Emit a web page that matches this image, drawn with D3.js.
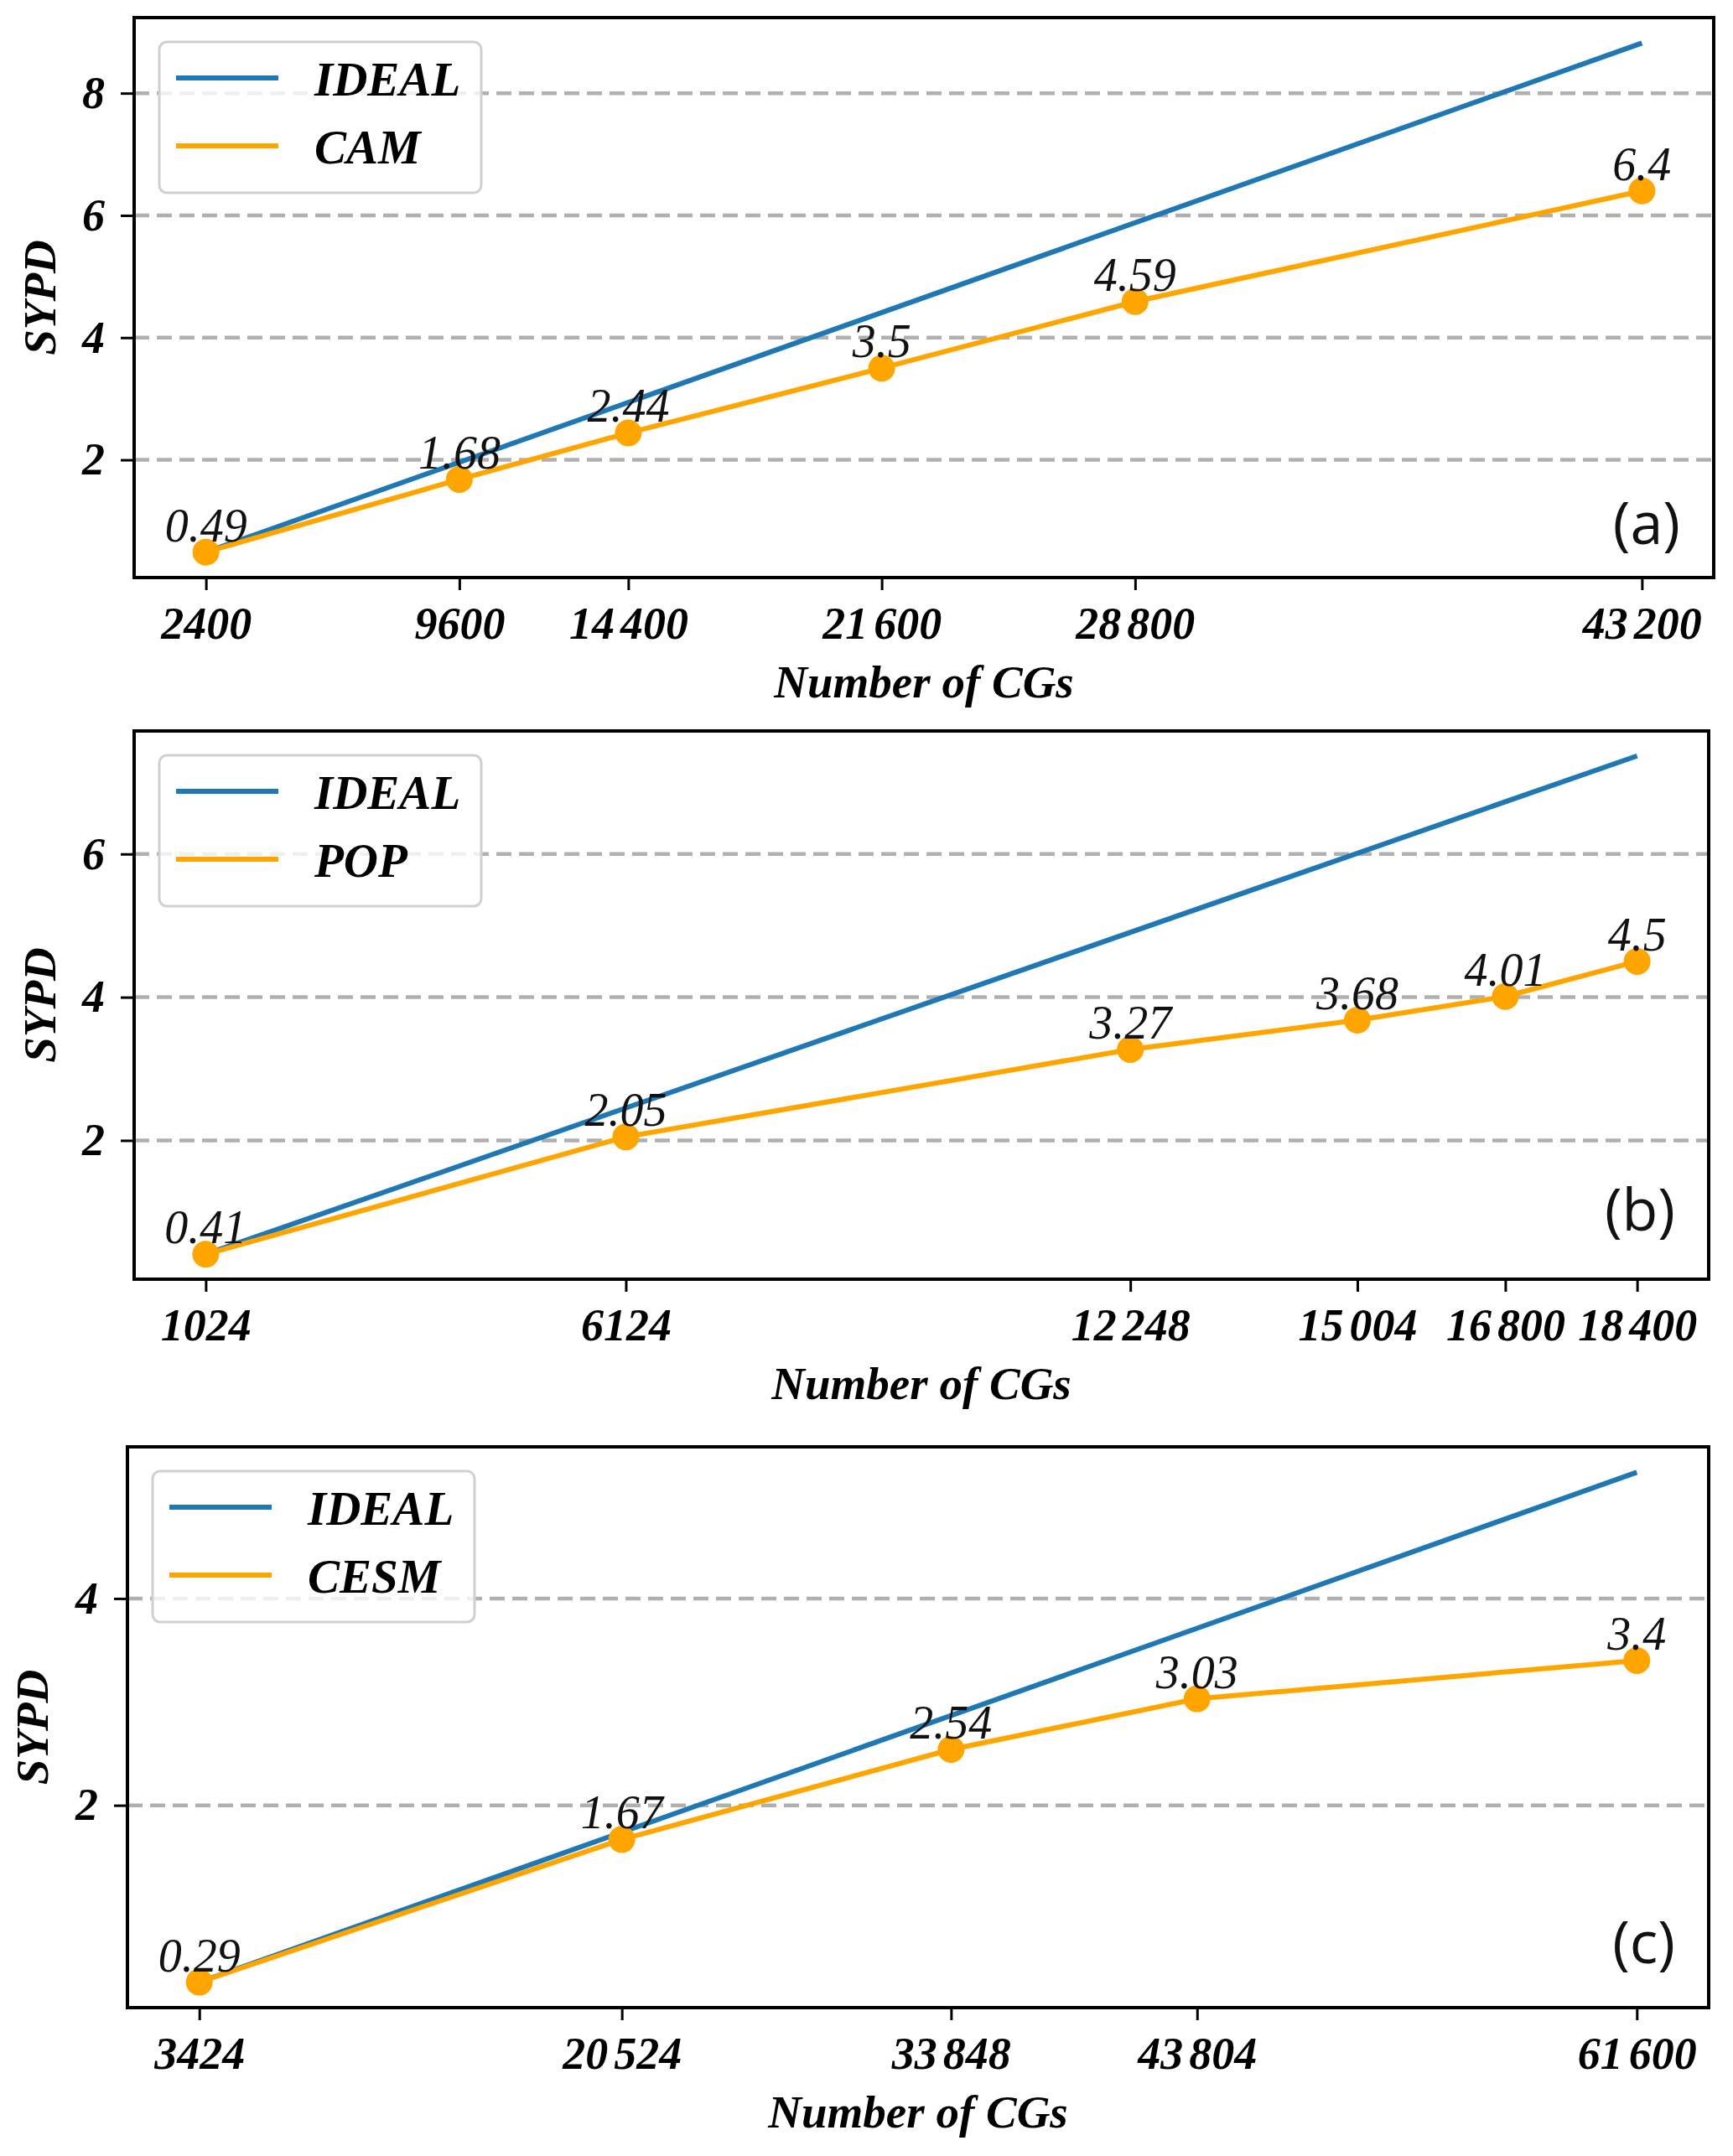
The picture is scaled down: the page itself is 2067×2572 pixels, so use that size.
<!DOCTYPE html>
<html lang="en">
<head>
<meta charset="utf-8">
<title>SYPD scaling</title>
<style>
  body { margin: 0; background: #fff; }
  svg { display: block; }
</style>
</head>
<body>
<svg id="chart"></svg>
<script src="https://cdn.jsdelivr.net/npm/d3@7/dist/d3.min.js"></script>
<script>

// --- data ---
const cgA = [2400, 9600, 14400, 21600, 28800, 43200]
const sypdCAM = [0.49, 1.68, 2.44, 3.5, 4.59, 6.4]
const idealA = [0.49, 8.82]          // first and last CG count

const cgB = [1024, 6124, 12248, 15004, 16800, 18400]
const sypdPOP = [0.41, 2.05, 3.27, 3.68, 4.01, 4.5]
const idealB = [0.41, 7.37]

const cgC = [3424, 20524, 33848, 43804, 61600]
const sypdCESM = [0.29, 1.67, 2.54, 3.03, 3.4]
const idealC = [0.29, 5.22]

const yTicksA = [2, 4, 6, 8]
const yTicksB = [2, 4, 6]
const yTicksC = [2, 4]

const modelNames = ["CAM", "POP", "CESM"]
const panelTags = ["(a)", "(b)", "(c)"]
const idealName = "IDEAL"
const xTitle = "Number of CGs"
const yTitle = "SYPD"

// --- layout ---
const W = 2067, H = 2572
const boxes = [
  {left: 160, right: 2044, top: 21,   bottom: 689,  ylab: 47, tagLift: 40},
  {left: 160, right: 2038, top: 872,  bottom: 1526, ylab: 47, tagLift: 58},
  {left: 152, right: 2038, top: 1726, bottom: 2395, ylab: 38, tagLift: 53}
]

const panels = [
  {cg: cgA, vals: sypdCAM, ideal: idealA, yTicks: yTicksA},
  {cg: cgB, vals: sypdPOP, ideal: idealB, yTicks: yTicksB},
  {cg: cgC, vals: sypdCESM, ideal: idealC, yTicks: yTicksC}
]

const blue = "#1f77b4", orange = "#ffa500", gridCol = "#b0b0b0"
const serif = "'Times New Roman', 'Liberation Serif', Tinos, serif"

const svg = d3.select("#chart").attr("width", W).attr("height", H)
svg.append("rect").attr("width", W).attr("height", H).attr("fill", "#fff")

// matplotlib-like 5% padding
const pad = ([a, b]) => { const m = (b - a) * 0.05; return [a - m, b + m] }

panels.forEach((p, i) => {
  const b = boxes[i]
  const g = svg.append("g")

  const x = d3.scaleLinear().domain(pad(d3.extent(p.cg))).range([b.left, b.right])
  const allY = p.vals.concat(p.ideal)
  const y = d3.scaleLinear().domain(pad(d3.extent(allY))).range([b.bottom, b.top])

  // dashed grid
  g.selectAll(".grid").data(p.yTicks).enter()
    .append("line")
      .attr("x1", b.left).attr("x2", b.right)
      .attr("y1", d => y(d)).attr("y2", d => y(d))
      .style("stroke", gridCol)
      .style("stroke-width", 4.5)
      .style("stroke-dasharray", "18,9")

  // axes
  const xAxis = g.append("g")
    .attr("transform", `translate(0,${b.bottom})`)
    .call(d3.axisBottom(x).tickValues(p.cg).tickFormat(d => String(d)).tickSize(15).tickPadding(20).tickSizeOuter(0))
  const yAxis = g.append("g")
    .attr("transform", `translate(${b.left},0)`)
    .call(d3.axisLeft(y).tickValues(p.yTicks).tickFormat(d3.format("d")).tickSize(16).tickPadding(19).tickSizeOuter(0))

  // small gap before the last three digits of 5-digit counts
  xAxis.selectAll(".tick text").each(function(d) {
    if (d < 10000) return
    const s = String(d), t = d3.select(this).text(null)
    t.append("tspan").text(s.slice(0, -3))
    t.append("tspan").attr("dx", 7).text(s.slice(-3))
  })

  ;[xAxis, yAxis].forEach(a => {
    a.select(".domain").remove()
    a.selectAll(".tick line").style("stroke", "#000").style("stroke-width", 3)
    a.selectAll(".tick text")
      .style("font-family", serif)
      .style("font-size", "54px")
      .style("font-weight", 700)
      .style("font-style", "italic")
      .style("fill", "#000")
  })

  // ideal line
  const xEnds = d3.extent(p.cg)
  g.append("path")
    .datum(p.ideal.map((v, k) => [xEnds[k], v]))
    .attr("d", d3.line().x(d => x(d[0])).y(d => y(d[1])))
    .style("fill", "none").style("stroke", blue).style("stroke-width", 6)

  // model line + markers
  const pts = p.cg.map((c, k) => [c, p.vals[k]])
  g.append("path")
    .datum(pts)
    .attr("d", d3.line().x(d => x(d[0])).y(d => y(d[1])))
    .style("fill", "none").style("stroke", orange).style("stroke-width", 6)

  g.selectAll(".dot").data(pts).enter()
    .append("circle")
      .attr("cx", d => x(d[0])).attr("cy", d => y(d[1])).attr("r", 16)
      .style("fill", orange)

  g.selectAll(".val").data(pts).enter()
    .append("text")
      .text(d => String(d[1]))
      .attr("x", d => x(d[0]))
      .attr("y", d => y(d[1]) - 13)
      .attr("text-anchor", "middle")
      .style("font-family", serif)
      .style("font-size", "56px")
      .style("font-style", "italic")
      .style("fill", "#111")

  // frame
  g.append("rect")
    .attr("x", b.left).attr("y", b.top)
    .attr("width", b.right - b.left).attr("height", b.bottom - b.top)
    .style("fill", "none").style("stroke", "#000").style("stroke-width", 4)

  // axis titles
  g.append("text")
    .text(xTitle)
    .attr("x", (b.left + b.right) / 2).attr("y", b.bottom + 143)
    .attr("text-anchor", "middle")
    .style("font-family", serif).style("font-size", "55px")
    .style("font-weight", 700).style("font-style", "italic")

  g.append("text")
    .text(yTitle)
    .attr("transform", `translate(${b.ylab},${(b.top + b.bottom) / 2}) rotate(-90)`)
    .attr("text-anchor", "middle")
    .attr("dominant-baseline", "central")
    .style("font-family", serif).style("font-size", "55px")
    .style("font-weight", 700).style("font-style", "italic")

  // panel tag
  g.append("text")
    .text(panelTags[i])
    .attr("x", b.right - 40).attr("y", b.bottom - b.tagLift)
    .attr("text-anchor", "end")
    .style("font-family", "'Open Sans', 'DejaVu Sans', sans-serif")
    .style("font-size", "70px")
    .style("fill", "#111")

  // legend
  const lg = g.append("g").attr("transform", `translate(${b.left + 30},${b.top + 29})`)
  lg.append("rect")
    .attr("width", 384).attr("height", 180).attr("rx", 9)
    .style("fill", "#fff").style("fill-opacity", 0.8)
    .style("stroke", "#d0d0d0").style("stroke-width", 3)
  const entries = [[idealName, blue], [modelNames[i], orange]]
  entries.forEach(([name, col], k) => {
    const ly = 43 + k * 81
    lg.append("line")
      .attr("x1", 20).attr("x2", 142).attr("y1", ly).attr("y2", ly)
      .style("stroke", col).style("stroke-width", 6)
    lg.append("text")
      .text(name)
      .attr("x", 185).attr("y", ly + 21)
      .style("font-family", serif).style("font-size", "57px")
      .style("font-weight", 700).style("font-style", "italic")
  })
})

</script>
</body>
</html>
